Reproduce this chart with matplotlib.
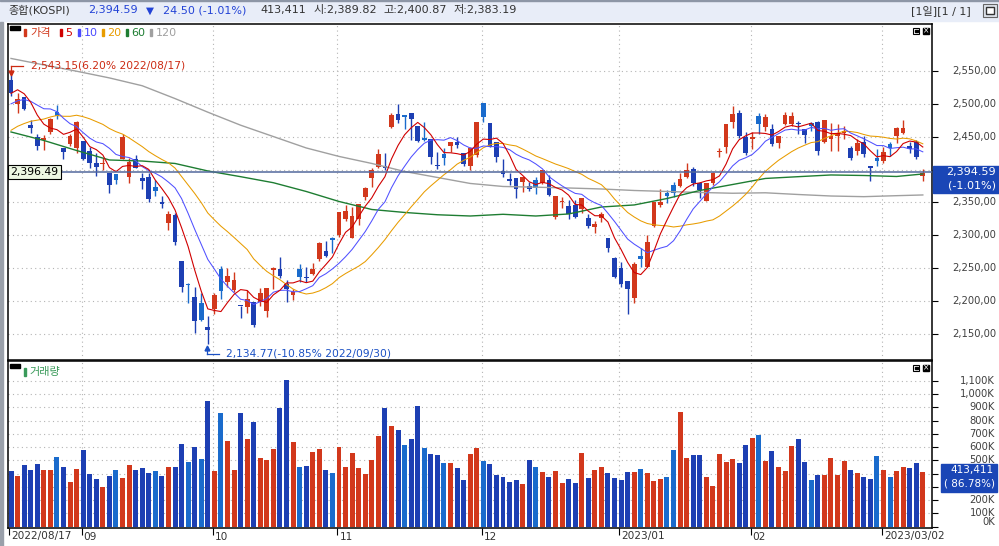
import numpy as np
import pandas as pd
import matplotlib
matplotlib.use("Agg")
import matplotlib.pyplot as plt
from matplotlib.patches import Rectangle
from matplotlib.lines import Line2D
from matplotlib.transforms import blended_transform_factory

plt.rcParams['font.family'] = ['DejaVu Sans', 'Noto Sans CJK KR']

# KOSPI daily candles, 2022/08/17 .. 2023/03/10 (140 sessions)
opens = [
    2536.3, 2499.3, 2510.0, 2467.9, 2449.1, 2445.0, 2457.7, 2488.1, 2432.4, 2439.0,
    2432.4, 2443.5, 2428.8, 2409.6, 2408.5, 2395.4, 2392.8, 2415.6, 2389.3, 2415.6,
    2386.7, 2389.3, 2374.1, 2351.3, 2319.3, 2331.0, 2261.0, 2224.5, 2206.8, 2196.6,
    2161.1, 2187.5, 2248.3, 2229.6, 2216.9, 2192.6, 2190.5, 2199.2, 2199.2, 2185.5,
    2247.3, 2248.3, 2226.0, 2209.3, 2248.3, 2236.2, 2241.2, 2263.6, 2276.2, 2295.5,
    2300.6, 2324.4, 2296.5, 2324.4, 2358.9, 2386.7, 2404.5, 2405.5, 2465.3, 2484.6,
    2483.1, 2486.6, 2466.3, 2448.6, 2446.6, 2406.5, 2423.8, 2435.9, 2442.5, 2424.8,
    2405.5, 2422.2, 2501.8, 2471.4, 2442.5, 2397.9, 2385.7, 2386.7, 2381.7, 2374.6,
    2384.2, 2380.2, 2384.2, 2328.4, 2350.0, 2344.7, 2346.2, 2339.6, 2325.9, 2312.2,
    2326.9, 2295.5, 2265.1, 2249.9, 2230.6, 2205.2, 2268.6, 2252.4, 2314.8, 2346.2,
    2363.9, 2376.6, 2375.1, 2389.3, 2401.0, 2379.1, 2352.8, 2379.1, 2426.3, 2434.9,
    2472.9, 2485.6, 2449.1, 2446.1, 2481.6, 2465.3, 2461.3, 2440.0, 2469.4, 2469.4,
    2471.4, 2461.3, 2470.4, 2472.9, 2442.5, 2446.6, 2451.1, 2456.2, 2432.4, 2428.8,
    2442.5, 2405.5, 2418.2, 2413.6, 2439.0, 2451.6, 2456.2, 2435.9, 2442.5, 2389.82,
]
highs = [
    2543.15, 2516.0, 2510.0, 2475.5, 2454.2, 2452.7, 2478.0, 2498.3, 2432.4, 2454.2,
    2474.0, 2443.5, 2433.9, 2424.8, 2417.2, 2395.4, 2392.8, 2454.2, 2417.2, 2422.2,
    2394.4, 2394.4, 2384.2, 2359.9, 2337.6, 2333.5, 2261.0, 2227.0, 2222.0, 2211.8,
    2177.4, 2211.8, 2253.4, 2249.9, 2244.8, 2192.6, 2216.9, 2199.2, 2219.4, 2219.7,
    2251.4, 2267.6, 2232.1, 2217.9, 2256.5, 2252.4, 2258.5, 2290.4, 2292.0, 2297.0,
    2336.0, 2346.2, 2343.7, 2348.3, 2374.1, 2402.0, 2430.9, 2424.8, 2486.6, 2499.3,
    2483.1, 2486.6, 2466.3, 2472.9, 2446.6, 2427.3, 2432.4, 2442.0, 2449.1, 2424.8,
    2433.9, 2472.9, 2501.8, 2471.4, 2442.5, 2416.2, 2395.4, 2386.7, 2389.3, 2381.7,
    2389.3, 2399.4, 2391.8, 2360.2, 2358.9, 2353.8, 2353.8, 2356.7, 2332.5, 2322.4,
    2336.0, 2295.5, 2267.6, 2260.0, 2230.6, 2260.0, 2280.3, 2300.6, 2350.2, 2370.0,
    2369.0, 2381.7, 2394.4, 2409.6, 2403.5, 2381.7, 2380.3, 2396.9, 2432.4, 2468.7,
    2496.8, 2490.7, 2457.7, 2457.7, 2486.6, 2484.6, 2469.4, 2451.7, 2488.1, 2488.1,
    2474.5, 2461.3, 2472.9, 2474.0, 2475.5, 2471.4, 2469.4, 2466.3, 2435.9, 2446.1,
    2451.1, 2405.5, 2430.9, 2433.9, 2442.5, 2465.3, 2475.5, 2442.5, 2445.0, 2400.87,
]
lows = [
    2512.0, 2486.6, 2490.7, 2456.2, 2429.8, 2429.8, 2454.2, 2476.5, 2415.6, 2436.0,
    2424.8, 2414.6, 2403.0, 2390.8, 2399.4, 2364.9, 2378.1, 2415.6, 2380.0, 2401.8,
    2370.0, 2351.3, 2359.9, 2341.1, 2308.2, 2285.3, 2214.4, 2196.6, 2151.0, 2170.3,
    2134.77, 2180.4, 2202.7, 2222.0, 2214.4, 2173.8, 2181.4, 2161.1, 2192.6, 2176.3,
    2217.9, 2234.6, 2199.2, 2201.7, 2229.6, 2229.6, 2239.7, 2261.5, 2266.6, 2272.7,
    2297.0, 2322.4, 2295.5, 2315.8, 2353.8, 2374.1, 2402.0, 2399.4, 2462.8, 2470.4,
    2461.3, 2445.1, 2442.5, 2444.0, 2408.0, 2400.4, 2407.0, 2427.3, 2432.4, 2405.5,
    2399.4, 2419.7, 2472.9, 2433.9, 2412.1, 2389.3, 2376.6, 2356.3, 2366.5, 2368.0,
    2362.9, 2378.1, 2359.9, 2324.9, 2341.1, 2324.4, 2325.9, 2334.5, 2310.7, 2303.1,
    2320.8, 2275.2, 2234.6, 2222.0, 2180.7, 2197.6, 2252.4, 2252.4, 2312.2, 2343.7,
    2349.7, 2358.9, 2373.1, 2386.7, 2375.1, 2356.3, 2352.8, 2376.6, 2419.7, 2425.8,
    2462.8, 2447.6, 2422.2, 2430.9, 2454.2, 2459.2, 2436.4, 2432.4, 2467.9, 2466.3,
    2454.2, 2440.0, 2459.2, 2422.2, 2441.0, 2428.8, 2428.8, 2446.1, 2414.6, 2422.2,
    2418.7, 2383.2, 2405.5, 2410.6, 2420.7, 2441.0, 2454.2, 2425.8, 2415.6, 2383.19,
]
closes = [
    2516.5, 2507.5, 2492.7, 2462.5, 2435.3, 2447.5, 2477.3, 2481.0, 2426.9, 2450.9,
    2472.1, 2415.6, 2409.4, 2403.7, 2410.0, 2376.5, 2384.3, 2449.5, 2411.4, 2401.8,
    2382.8, 2355.7, 2367.9, 2347.2, 2332.3, 2290.0, 2220.9, 2223.9, 2169.3, 2170.9,
    2155.5, 2209.4, 2215.2, 2237.9, 2232.8, 2192.1, 2202.5, 2162.9, 2212.6, 2219.7,
    2250.0, 2237.4, 2218.1, 2213.1, 2236.2, 2235.1, 2249.4, 2288.8, 2268.4, 2293.6,
    2335.2, 2337.0, 2329.2, 2348.3, 2371.8, 2399.0, 2424.4, 2402.2, 2483.2, 2474.7,
    2480.3, 2477.5, 2442.9, 2444.5, 2419.5, 2405.3, 2417.1, 2441.3, 2437.9, 2408.3,
    2433.4, 2472.5, 2479.8, 2434.3, 2419.3, 2393.2, 2382.8, 2371.1, 2389.0, 2371.2,
    2372.4, 2399.3, 2361.0, 2360.2, 2352.2, 2333.2, 2328.4, 2356.7, 2313.7, 2317.1,
    2332.8, 2280.5, 2236.4, 2225.7, 2218.7, 2256.0, 2264.7, 2290.0, 2350.2, 2351.3,
    2359.9, 2365.1, 2386.1, 2399.9, 2379.4, 2368.3, 2380.3, 2395.3, 2428.6, 2468.7,
    2484.0, 2450.5, 2425.1, 2449.8, 2468.9, 2480.4, 2438.2, 2451.7, 2483.6, 2481.5,
    2469.4, 2452.7, 2465.6, 2427.9, 2475.5, 2451.2, 2455.1, 2459.0, 2417.9, 2439.7,
    2423.6, 2402.6, 2412.9, 2427.0, 2432.1, 2462.6, 2463.4, 2431.9, 2419.1, 2394.59,
]
# volume in thousand shares
volumes = [
    421, 383, 466, 428, 474, 428, 428, 526, 451, 338,
    436, 579, 398, 360, 300, 383, 428, 368, 466, 428,
    443, 406, 421, 383, 451, 451, 625, 489, 602, 511,
    950, 421, 859, 647, 428, 859, 663, 791, 519, 504,
    587, 897, 1108, 640, 451, 458, 564, 587, 428, 406,
    602, 451, 557, 443, 398, 504, 685, 897, 761, 731,
    617, 663, 912, 595, 549, 542, 481, 481, 443, 353,
    549, 595, 496, 474, 390, 375, 338, 353, 322, 504,
    451, 413, 375, 421, 330, 360, 330, 557, 368, 428,
    451, 406, 368, 353, 413, 413, 436, 406, 345, 360,
    375, 579, 867, 519, 542, 542, 375, 307, 549, 489,
    511, 481, 617, 670, 693, 496, 572, 451, 421, 610,
    663, 489, 353, 390, 390, 519, 390, 496, 428, 406,
    375, 360, 534, 428, 375, 421, 451, 443, 481, 413.411,
]
# closes of the 19 sessions before the window (feed the 5/10/20 averages)
lead_closes = [2386, 2409, 2393, 2403, 2412, 2415, 2435, 2451, 2452, 2439,
               2461, 2473, 2490, 2493, 2503, 2480, 2523, 2527, 2533]
# 60 / 120 day averages
ma_long_idx = [0, 5, 10, 15, 20, 25, 30, 35, 40, 45, 50, 55, 60, 65, 70, 75, 80,
               85, 90, 95, 100, 105, 110, 115, 120, 125, 130, 135, 139]
ma60 = [2457.2, 2444.3, 2429.0, 2414.6, 2413.0, 2409.3, 2397.9, 2389.2, 2380.0,
        2366.7, 2351.5, 2339.3, 2334.8, 2331.3, 2329.4, 2332.0, 2329.4, 2332.5,
        2343.1, 2346.2, 2356.0, 2368.2, 2377.3, 2386.5, 2389.2, 2391.8, 2391.0,
        2389.5, 2393.3]
ma120 = [2569.0, 2559.2, 2549.6, 2539.4, 2527.5, 2508.0, 2487.3, 2467.5, 2450.2,
         2432.9, 2420.0, 2409.3, 2397.1, 2388.0, 2378.9, 2374.3, 2373.2, 2372.0,
         2370.5, 2368.2, 2366.7, 2365.2, 2364.0, 2364.7, 2362.1, 2359.8, 2358.8,
         2360.3, 2361.4]

month_idx = [0, 11, 31, 50, 72, 93, 113, 133]
month_labels = ['2022/08/17', '09', '10', '11', '12', '2023/01', '02', '2023/03/02']
price_ticks = [2150, 2200, 2250, 2300, 2350, 2400, 2450, 2500, 2550]
vol_ticks = [0, 100, 200, 300, 400, 500, 600, 700, 800, 900, 1000, 1100]
ref_line = 2396.49
# labels that the value boxes cover in the original
hidden_price = [2400]
hidden_vol = [300, 400]

UP, DOWN, DOWN_L = '#d2381c', '#1d3fb3', '#1a6bcc'
GRID = '#b4b4b4'

W, H = 999, 546
def fx(x):
    return x / W
def fy(y):
    return 1 - y / H

fig = plt.figure(figsize=(9.99, 5.46), dpi=100)

def frect(x0, y0, x1, y1, **kw):
    fig.add_artist(Rectangle((fx(x0), fy(y1)), fx(x1) - fx(x0), (y1 - y0) / H,
                             transform=fig.transFigure, **kw))

def ftext(x, y, s, **kw):
    kw.setdefault('va', 'center')
    fig.text(fx(x), fy(y), s, **kw)

def fline(xs, ys, **kw):
    fig.add_artist(Line2D([fx(v) for v in xs], [fy(v) for v in ys],
                          transform=fig.transFigure, **kw))

n = len(closes)
x = np.arange(n)
o = np.array(opens)
c = np.array(closes)
colors = []
for i in range(n):
    if c[i] >= o[i]:
        colors.append(UP)
    elif i > 0 and c[i] >= c[i - 1]:
        colors.append(DOWN_L)
    else:
        colors.append(DOWN)

allc = pd.Series(lead_closes + closes)
ma5 = allc.rolling(5).mean().to_numpy()[len(lead_closes):]
ma10 = allc.rolling(10).mean().to_numpy()[len(lead_closes):]
ma20 = allc.rolling(20).mean().to_numpy()[len(lead_closes):]

# ---- price panel
ax = fig.add_axes([fx(8), fy(360), fx(932) - fx(8), (360 - 24) / H])
ax.set_xlim(-0.46, 140.4)
ax.set_ylim(2110.4, 2621.4)
for p in price_ticks:
    ax.axhline(p, color=GRID, lw=0.8, ls=(0, (1, 3)), zorder=1)
for m in month_idx[1:]:
    ax.axvline(m - 0.25, color=GRID, lw=0.8, ls=(0, (1, 3)), zorder=1)

ax.vlines(x, lows, highs, colors=colors, lw=1.0, zorder=3)
ax.bar(x, np.maximum(np.abs(c - o), 1.5), bottom=np.minimum(o, c), width=0.72,
       color=colors, linewidth=0, zorder=3)

ax.plot(ma_long_idx, ma120, color='#a0a0a0', lw=1.0, zorder=4)
ax.plot(ma_long_idx, ma60, color='#1e7d32', lw=1.0, zorder=4)
ax.plot(x, ma20, color='#e89c00', lw=0.75, zorder=4)
ax.plot(x, ma10, color='#5050ff', lw=0.75, zorder=4)
ax.plot(x, ma5, color='#d00000', lw=0.8, zorder=4)
ax.axhline(ref_line, color='#52689c', lw=1.1, zorder=5)

ax.set_xticks([])
ax.yaxis.tick_right()
ax.set_yticks(price_ticks)
ax.tick_params(axis='y', direction='out', length=4, width=0.8, labelright=False)
for s in ax.spines.values():
    s.set_linewidth(1.1)
tr = blended_transform_factory(fig.transFigure, ax.transData)
for p in price_ticks:
    if p in hidden_price:
        continue
    ax.text(fx(996), p, '{:,},00'.format(p), transform=tr, ha='right', va='center',
            fontsize=7.2, color='#404040', clip_on=False)

# ---- volume panel
axv = fig.add_axes([fx(8), fy(527.5), fx(932) - fx(8), (527.5 - 361) / H])
axv.set_xlim(-0.46, 140.4)
axv.set_ylim(-6, 1248.7)
for v in vol_ticks[1:]:
    axv.axhline(v, color=GRID, lw=0.8, ls=(0, (1, 3)), zorder=1)
for m in month_idx[1:]:
    axv.axvline(m - 0.25, color=GRID, lw=0.8, ls=(0, (1, 3)), zorder=1)
axv.bar(x, volumes, width=0.76, color=colors, linewidth=0, zorder=3)
axv.yaxis.tick_right()
axv.set_yticks(vol_ticks)
axv.tick_params(axis='y', direction='out', length=4, width=0.8, labelright=False)
axv.set_xticks([m - 0.25 for m in month_idx])
axv.tick_params(axis='x', direction='out', length=5, width=0.8, labelbottom=False)
for s in axv.spines.values():
    s.set_linewidth(1.1)
trv = blended_transform_factory(fig.transFigure, axv.transData)
for v in vol_ticks:
    if v in hidden_vol:
        continue
    yv = v if v > 0 else 36
    axv.text(fx(995), yv, '{:,}K'.format(v), transform=trv, ha='right', va='center',
             fontsize=7.2, color='#404040', clip_on=False)
for m, lab in zip(month_idx, month_labels):
    xpx = 11 + 6.56 * (m - 0.25) + 2
    ftext(xpx, 536.5, lab, fontsize=7.6, color='#333333', ha='left')

# ---- header bar
frect(0, 0, 999, 21, color='#e8edf8', zorder=0)
frect(0, 0, 999, 1.3, color='#8d96a6', zorder=1)
frect(0, 22, 2.5, 546, color='#9aa0aa', zorder=1)
ftext(8.3, 10.5, '종합(KOSPI)', fontsize=8, color='#333333')
ftext(88.3, 10.5, '2,394.59', fontsize=8, color='#2343d6')
ftext(146, 10.5, '▼', fontsize=7.5, color='#2343d6')
ftext(162.7, 10.5, '24.50 (-1.01%)', fontsize=8, color='#2343d6')
ftext(260, 10.5, '413,411', fontsize=8, color='#333333')
ftext(313.3, 10.5, '시:2,389.82', fontsize=8, color='#333333')
ftext(383, 10.5, '고:2,400.87', fontsize=8, color='#333333')
ftext(453.3, 10.5, '저:2,383.19', fontsize=8, color='#333333')
ftext(910.7, 10.5, '[1일][1 / 1]', fontsize=8, color='#333333')
frect(983, 4, 996.5, 17, facecolor='#dfe4ec', edgecolor='#666666', lw=0.8, zorder=2)
frect(985.5, 7, 994, 14, facecolor='white', edgecolor='#333333', lw=1.0, zorder=3)

# ---- legends
frect(10, 26.3, 20, 30, color='black', zorder=5)
legend_items = [(24, 30, '가격', '#d2381c'), (60, 65, '5', '#d00000'),
                (78, 84, '10', '#4a4aff'), (102, 107, '20', '#e89c00'),
                (126, 131, '60', '#1e7d32'), (150, 156, '120', '#a0a0a0')]
for bx, tx, lab, col in legend_items:
    frect(bx, 29.3, bx + 2.3, 36, color=col, zorder=5)
    ftext(tx, 33, lab, fontsize=8, color=col, zorder=5)
frect(10, 364.3, 20, 368.3, color='black', zorder=5)
frect(24, 368, 26.3, 375.5, color='#3a9a5a', zorder=5)
ftext(29.5, 372, '거래량', fontsize=8, color='#3a9a5a', zorder=5)

for top in (27.5, 364.8):
    frect(913, top, 919.5, top + 6.5, facecolor='white', edgecolor='black', lw=0.8, zorder=5)
    frect(914.5, top + 2, 918, top + 4.5, color='black', zorder=6)
    frect(923, top, 929.5, top + 6.5, color='black', zorder=5)
    ftext(926.3, top + 3.3, '×', fontsize=5.5, color='white', ha='center', zorder=6)

# ---- high / low markers
red_t = '#cc2a12'
fline([10.5, 10.5], [65.5, 72], color=red_t, lw=0.9, zorder=6)
fline([10.5, 23], [65.5, 65.5], color=red_t, lw=0.9, zorder=6)
fline([10.5], [72.5], marker='v', ms=3.5, color=red_t, lw=0, zorder=6)
ftext(31, 65.8, '2,543.15(6.20% 2022/08/17)', fontsize=7.7, color=red_t, zorder=6)
blue_t = '#1a50c4'
fline([207.3, 207.3], [348, 354], color=blue_t, lw=0.9, zorder=6)
fline([207.3, 218.5], [354, 354], color=blue_t, lw=0.9, zorder=6)
fline([207.3], [347.5], marker='^', ms=3.5, color=blue_t, lw=0, zorder=6)
ftext(226, 354, '2,134.77(-10.85% 2022/09/30)', fontsize=7.7, color=blue_t, zorder=6)

# ---- value boxes
frect(7.5, 165.5, 61, 179.5, facecolor='#edf7e3', edgecolor='black', lw=0.8, zorder=6)
ftext(34.2, 172.5, '2,396.49', fontsize=7.8, color='black', ha='center', zorder=7)
frect(932.5, 166, 999, 192.5, color='#1a46b6', zorder=6)
ftext(996, 172, '2,394.59', fontsize=8, color='white', ha='right', zorder=7)
ftext(996, 186, '(-1.01%)', fontsize=8, color='white', ha='right', zorder=7)
frect(941, 463.5, 997, 491.5, color='#1a46b6', zorder=6)
ftext(993.5, 470.3, '413,411', fontsize=7.5, color='white', ha='right', zorder=7)
ftext(995.5, 483, '( 86.78%)', fontsize=7.5, color='white', ha='right', zorder=7)

fig.savefig('out.png', dpi=100)
